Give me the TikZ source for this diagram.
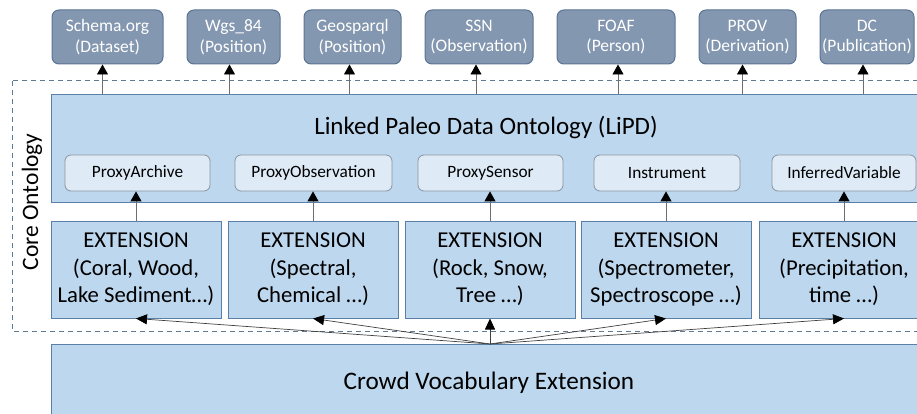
\documentclass[tikz,border=0pt]{standalone}
\usepackage{fontspec}
\setmainfont{Carlito}
\usetikzlibrary{arrows.meta}
\definecolor{topfill}{HTML}{8497B0}
\definecolor{topdraw}{HTML}{5B7393}
\definecolor{lbfill}{HTML}{BDD7EE}
\definecolor{lbdraw}{HTML}{5B80A8}
\definecolor{infill}{HTML}{DEEBF7}
\definecolor{indraw}{HTML}{8A949E}
\definecolor{dashcol}{HTML}{5F7A94}
\definecolor{arrcol}{HTML}{6E6E6E}
\tikzset{
  topbox/.style={draw=topdraw, fill=topfill, line width=1pt, rounded corners=7pt,
    text=white, align=center, inner sep=0pt, minimum height=54pt,
    font=\fontsize{17.5}{20.5}\selectfont},
  bigbox/.style={draw=lbdraw, fill=lbfill, line width=1pt, inner sep=0pt, anchor=north west},
  inbox/.style={draw=indraw, fill=infill, line width=0.8pt, rounded corners=6pt,
    inner sep=0pt, minimum height=36pt, font=\fontsize{17.3}{20}\selectfont},
  extbox/.style={draw=lbdraw, fill=lbfill, line width=1pt, inner sep=0pt, align=center,
    minimum width=170pt, minimum height=97pt, font=\fontsize{22.7}{27.5}\selectfont},
  arr/.style={draw=arrcol, line width=0.9pt, -{Triangle[length=10pt,width=11pt,black]}},
  carr/.style={draw=black!75, line width=0.7pt, -{Triangle[length=11pt,width=10pt,black]}}
}
\begin{document}
\begin{tikzpicture}[x=1pt,y=-1pt]
\useasboundingbox (0,0) rectangle (917,414);
\clip (0,0) rectangle (917,414);
% dashed core ontology frame
\draw[dashcol, line width=1pt, dash pattern=on 5pt off 4pt] (12,81) rectangle (935,331);
\node[rotate=90, font=\fontsize{23.5}{27}\selectfont] (core) at (32,202) {Core Ontology};
% top vocabularies
\node[topbox, minimum width=111pt] (schema) at (107.5,37) {Schema.org\\(Dataset)};
\node[topbox, minimum width=93pt] (wgs) at (233.5,37) {Wgs\_84\\(Position)};
\node[topbox, minimum width=97pt] (geo) at (352.5,37) {Geosparql\\(Position)};
\node[topbox, minimum width=108pt] (ssn) at (479,37) {SSN\\(Observation)};
\node[topbox, minimum width=118pt] (foaf) at (616,37) {FOAF\\(Person)};
\node[topbox, minimum width=97pt] (prov) at (747.5,37) {PROV\\(Derivation)};
\node[topbox, minimum width=94pt] (dc) at (867,37) {DC\\(Publication)};
% LiPD box
\node[bigbox, minimum width=884pt, minimum height=108pt] (lipd) at (51,94) {};
\node[font=\fontsize{25}{29}\selectfont] (title) at (486,128) {Linked Paleo Data Ontology (LiPD)};
\node[inbox, minimum width=145pt] (pa) at (137.5,173) {ProxyArchive};
\node[inbox, minimum width=157pt] (po) at (313.5,173) {ProxyObservation};
\node[inbox, minimum width=145pt] (ps) at (490.5,173) {ProxySensor};
\node[inbox, minimum width=146pt] (ins) at (667,173) {Instrument};
\node[inbox, minimum width=144pt] (iv) at (844,173) {InferredVariable};
% extensions
\node[extbox] (e1) at (136,269.5) {EXTENSION\\(Coral, Wood,\\Lake Sediment…)};
\node[extbox] (e2) at (313,269.5) {EXTENSION\\(Spectral,\\Chemical …)};
\node[extbox] (e3) at (490,269.5) {EXTENSION\\(Rock, Snow,\\Tree …)};
\node[extbox] (e4) at (666,269.5) {EXTENSION\\(Spectrometer,\\Spectroscope …)};
\node[extbox] (e5) at (844,269.5) {EXTENSION\\(Precipitation,\\time …)};
% crowd
\node[bigbox, minimum width=884pt, minimum height=78pt] (crowd) at (51,344) {};
\node[font=\fontsize{25.2}{29}\selectfont] (ctext) at (489,383) {Crowd Vocabulary Extension};
\coordinate (cv) at (490,344);
% arrows to top vocabularies
\foreach \n/\dx in {schema/-5, wgs/-4, geo/-3, ssn/-3, foaf/2, prov/-5, dc/-4}
  \draw[arr] ([xshift=\dx pt]\n.south |- lipd.north) -- ([xshift=\dx pt]\n.south);
% extension to classes
\foreach \e/\c in {e1/pa, e2/po, e3/ps, e4/ins, e5/iv}
  \draw[arr] (\e.north) -- (\e.north |- \c.south);
% crowd to extensions
\foreach \e in {e1, e2, e3, e4, e5}
  \draw[carr] (cv) -- (\e.south);
\end{tikzpicture}
\end{document}
